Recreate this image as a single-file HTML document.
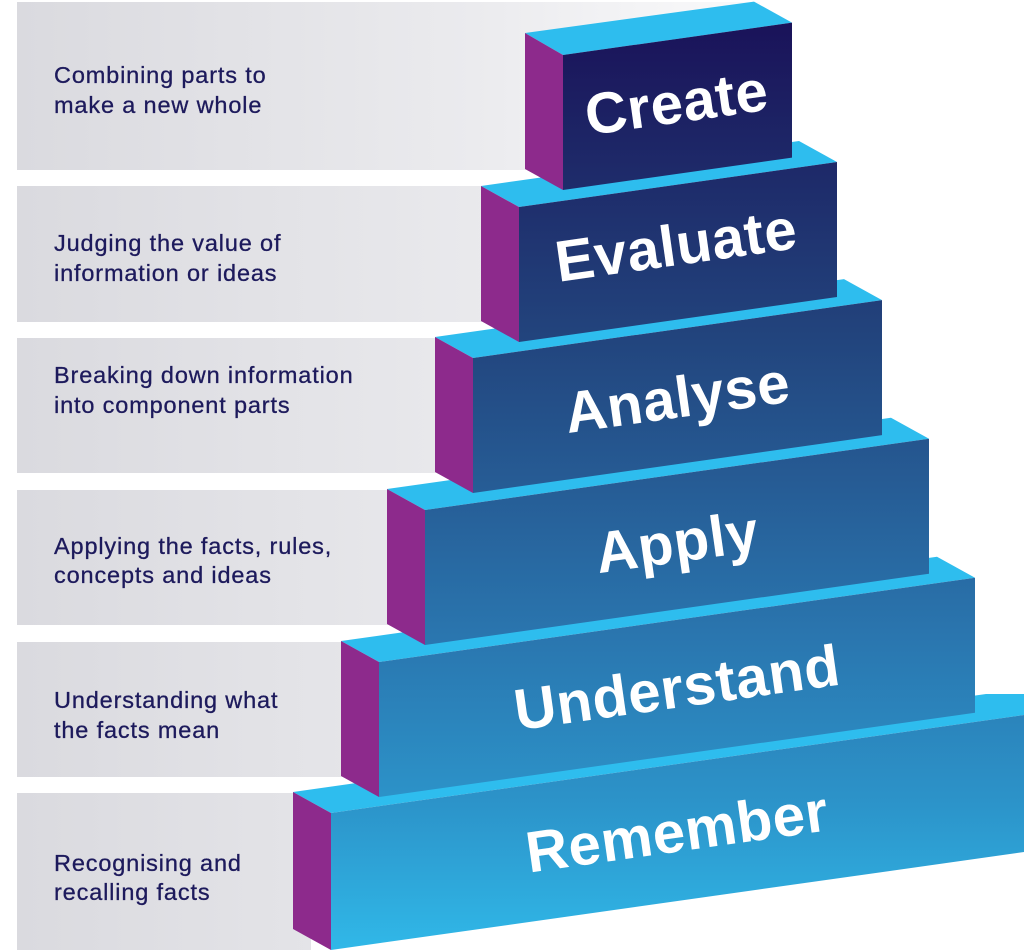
<!DOCTYPE html>
<html>
<head>
<meta charset="utf-8">
<style>
html,body{margin:0;padding:0;background:#ffffff;}
body{width:1024px;height:952px;overflow:hidden;}
svg{display:block;}
.desc{font-family:"Liberation Sans",Arial,sans-serif;font-size:23.5px;fill:#1d1a5c;stroke:#1d1a5c;stroke-width:0.3px;letter-spacing:0.85px;}
.lbl{font-family:"Liberation Sans",Arial,sans-serif;font-weight:bold;font-size:58px;fill:#ffffff;letter-spacing:0.6px;}
</style>
</head>
<body>
<svg width="1024" height="952" viewBox="0 0 1024 952" xmlns="http://www.w3.org/2000/svg">
  <defs>
    <linearGradient id="panel1" x1="17" y1="0" x2="780" y2="0" gradientUnits="userSpaceOnUse">
      <stop offset="0" stop-color="#dadadf"/>
      <stop offset="0.6" stop-color="#ebebee"/>
      <stop offset="1" stop-color="#fbfbfc"/>
    </linearGradient>
    <linearGradient id="panel" x1="17" y1="0" x2="560" y2="0" gradientUnits="userSpaceOnUse">
      <stop offset="0" stop-color="#dadadf"/>
      <stop offset="1" stop-color="#ececef"/>
    </linearGradient>
    <linearGradient id="front" x1="0" y1="20" x2="0" y2="950" gradientUnits="userSpaceOnUse">
      <stop offset="0" stop-color="#1a1259"/>
      <stop offset="0.17" stop-color="#1e2b6a"/>
      <stop offset="0.34" stop-color="#22447d"/>
      <stop offset="0.5" stop-color="#265c95"/>
      <stop offset="0.67" stop-color="#2a77b0"/>
      <stop offset="0.84" stop-color="#2c93c9"/>
      <stop offset="1" stop-color="#30b8e8"/>
    </linearGradient>
  </defs>

  <!-- panels -->
  <rect x="17" y="2" width="743" height="168" fill="url(#panel1)"/>
  <rect x="17" y="186" width="483" height="136" fill="url(#panel)"/>
  <rect x="17" y="338" width="435" height="135" fill="url(#panel)"/>
  <rect x="17" y="490" width="388" height="135" fill="url(#panel)"/>
  <rect x="17" y="642" width="342" height="135" fill="url(#panel)"/>
  <rect x="17" y="793" width="294" height="157" fill="url(#panel)"/>

  <!-- descriptions -->
  <text class="desc" x="54" y="83">Combining parts to</text>
  <text class="desc" x="54" y="113">make a new whole</text>
  <text class="desc" x="54" y="251">Judging the value of</text>
  <text class="desc" x="54" y="281">information or ideas</text>
  <text class="desc" x="54" y="383">Breaking down information</text>
  <text class="desc" x="54" y="413">into component parts</text>
  <text class="desc" x="54" y="554">Applying the facts, rules,</text>
  <text class="desc" x="54" y="583">concepts and ideas</text>
  <text class="desc" x="54" y="708">Understanding what</text>
  <text class="desc" x="54" y="738">the facts mean</text>
  <text class="desc" x="54" y="871">Recognising and</text>
  <text class="desc" x="54" y="900">recalling facts</text>

  <!-- Remember (bottom) -->
  <polygon points="293,792 331,813 1024,715 1024,694 986,694" fill="#2ebdee"/>
  <polygon points="1024,715 331,813 331,950 1024,852" fill="url(#front)"/>
  <polygon points="293,792 331,813 331,950 293,929" fill="#8d2a8c"/>
  <text class="lbl" x="677" y="851.5" text-anchor="middle" transform="rotate(-8.05 677 831.5)">Remember</text>

  <!-- Understand -->
  <polygon points="341,641 379,662 975,577.7 937,556.7" fill="#2ebdee"/>
  <polygon points="379,662 975,577.7 975,712.7 379,797" fill="url(#front)"/>
  <polygon points="341,641 379,662 379,797 341,776" fill="#8d2a8c"/>
  <text class="lbl" x="677" y="707.5" text-anchor="middle" transform="rotate(-8.05 677 687.5)">Understand</text>

  <!-- Apply -->
  <polygon points="387,489 425,510 929,438.7 891,417.7" fill="#2ebdee"/>
  <polygon points="425,510 929,438.7 929,573.7 425,645" fill="url(#front)"/>
  <polygon points="387,489 425,510 425,645 387,624" fill="#8d2a8c"/>
  <text class="lbl" x="677" y="562" text-anchor="middle" transform="rotate(-8.05 677 542)">Apply</text>

  <!-- Analyse -->
  <polygon points="435,337 473,358 882,300.1 844,279.1" fill="#2ebdee"/>
  <polygon points="473,358 882,300.1 882,435.1 473,493" fill="url(#front)"/>
  <polygon points="435,337 473,358 473,493 435,472" fill="#8d2a8c"/>
  <text class="lbl" x="677" y="417.5" text-anchor="middle" transform="rotate(-8.05 677 396.5)">Analyse</text>

  <!-- Evaluate -->
  <polygon points="481,186 519,207 837,162 799,141" fill="#2ebdee"/>
  <polygon points="519,207 837,162 837,297 519,342" fill="url(#front)"/>
  <polygon points="481,186 519,207 519,342 481,321" fill="#8d2a8c"/>
  <text class="lbl" x="677" y="265" text-anchor="middle" transform="rotate(-8.05 677 252)">Evaluate</text>

  <!-- Create (top) -->
  <polygon points="525,33 563,55 792,22.6 754,1.6" fill="#2ebdee"/>
  <polygon points="563,55 792,22.6 792,157.6 563,190" fill="url(#front)"/>
  <polygon points="525,33 563,55 563,190 525,169" fill="#8d2a8c"/>
  <text class="lbl" x="677" y="122.5" text-anchor="middle" transform="rotate(-8.05 677 106.5)">Create</text>
</svg>
</body>
</html>
